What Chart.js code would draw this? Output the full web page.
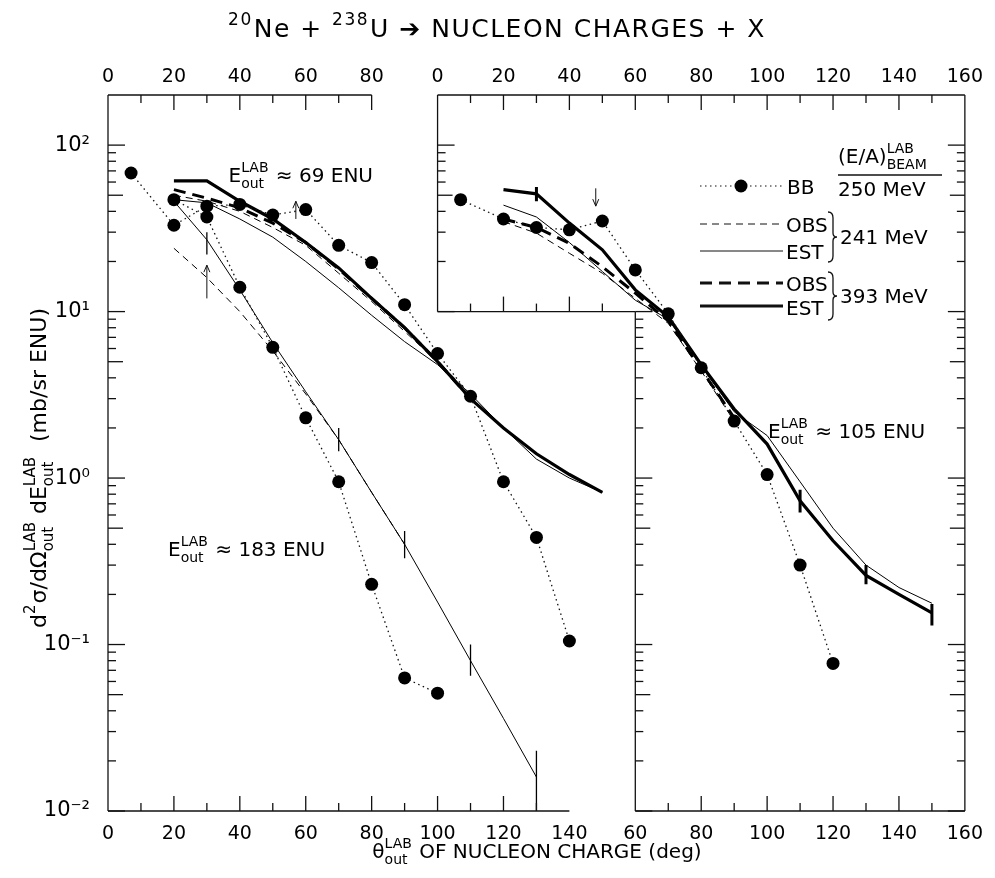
<!DOCTYPE html>
<html>
<head>
<meta charset="utf-8">
<script src="https://cdn.jsdelivr.net/npm/chart.js@4.4.1/dist/chart.umd.min.js"></script>
<style>
  html, body { margin: 0; background: #fff; }
</style>
</head>
<body>
<canvas id="chart" width="995" height="878"></canvas>
<script>
// right panel angles sit on the same x scale, shifted by this amount
const OFFSET = 100
const Y_MIN = 0.01
const Y_MAX = 200
const FONT = "'DejaVu Sans', sans-serif"

// tick labels
const bottomTicks = [0, 20, 40, 60, 80, 100, 120, 140, 160, 180, 200, 220, 240, 260]
const topTicks = [0, 20, 40, 60, 80, 100, 120, 140, 160, 180, 200, 220, 240, 260]
const yTicks = [0.01, 0.1, 1, 10, 100]
const yTickLabels = ["10\u207B\u00B2", "10\u207B\u00B9", "10\u2070", "10\u00B9", "10\u00B2"]

// left panel, E ~ 69 ENU
const bb69Deg = [7, 20, 30, 40, 50, 60, 70, 80, 90, 100, 110, 120, 130, 140]
const bb69 = [68, 33, 43, 44, 38, 41, 25, 19.7, 11, 5.6, 3.1, 0.95, 0.44, 0.105]
const est69Deg = [20, 30, 40, 50, 60, 70, 80, 90, 100, 110, 120, 130, 140, 150]
const est393_69 = [61, 61, 46, 36, 26, 18.3, 12, 8, 5, 3.0, 2.0, 1.4, 1.05, 0.82]
const est241_69 = [47, 45, 36, 28, 20, 13.9, 9.5, 6.6, 4.8, 3.2, 2.0, 1.3, 1.0, 0.82]
const obs69Deg = [20, 30, 40, 50, 60, 70, 80, 90, 100, 110]
const obs393_69 = [54, 48, 42, 34, 26, 18, 12, 8, 5, 3.0]
const obs241_69 = [50, 46, 40, 32, 25, 17, 11.5, 7.6, 5, 3.2]

// left panel, E ~ 183 ENU
const bb183Deg = [20, 30, 40, 50, 60, 70, 80, 90, 100]
const bb183 = [47, 37, 14, 6.1, 2.3, 0.95, 0.23, 0.063, 0.051]
const est183Deg = [20, 30, 40, 50, 60, 70, 80, 90, 100, 110, 120, 130]
const est241_183 = [46, 27, 13.5, 6.5, 3.3, 1.7, 0.82, 0.4, 0.18, 0.08, 0.036, 0.016]
const obs183Deg = [20, 30, 40, 50, 60, 70, 80, 90]
const obs241_183 = [24, 16, 10, 5.8, 3.2, 1.7, 0.82, 0.4]

// right panel, E ~ 105 ENU
const bbRDeg = [7, 20, 30, 40, 50, 60, 70, 80, 90, 100, 110, 120]
const bbR = [47, 36, 32, 31, 35, 17.8, 9.7, 4.6, 2.2, 1.05, 0.3, 0.077]
const estRDeg = [20, 30, 40, 50, 60, 70, 80, 90, 100, 110, 120, 130, 140, 150]
const est393R = [54, 51, 34, 23.5, 13.5, 9.3, 4.8, 2.6, 1.6, 0.73, 0.42, 0.26, 0.2, 0.155]
const est241R = [43.6, 37, 26, 17.4, 11.7, 9, 4.7, 2.5, 1.8, 0.95, 0.5, 0.3, 0.22, 0.177]
const obsRDeg = [20, 30, 40, 50, 60, 70, 80, 90]
const obs393R = [36, 32, 25.7, 18.6, 12.9, 8.8, 4.5, 2.3]
const obs241R = [34.7, 29.6, 22.4, 17, 12, 8.5, 4.4, 2.2]

// error bars (left thin ones, right thick ones)
const errThinDeg = [30, 70, 90, 110, 130]
const errThinLo = [22, 1.45, 0.33, 0.065, 0.0095]
const errThinHi = [30, 2.0, 0.48, 0.1, 0.023]
const errThickDeg = [30, 110, 130, 150]
const errThickLo = [46, 0.62, 0.23, 0.13]
const errThickHi = [56, 0.85, 0.3, 0.175]

// small arrows: x on shared scale, tail value, head value
const arrowX = [30, 57, 48 + OFFSET]
const arrowTail = [12, 36, 55]
const arrowHead = [19, 46, 43]

function pts(deg, vals, shift) {
  return deg.map((d, i) => ({ x: d + (shift || 0), y: vals[i] }))
}

function bars(deg, lo, hi, shift) {
  let out = []
  deg.forEach((d, i) => {
    out.push({ x: d + shift, y: lo[i] }, { x: d + shift, y: hi[i] }, { x: d + shift, y: null })
  })
  return out
}

function bb(data) {
  return { data, borderColor: '#111', borderWidth: 1.3, borderDash: [1.5, 3.5],
           pointRadius: 6.5, pointBackgroundColor: '#000', pointBorderWidth: 0 }
}
function line(data, width, dash) {
  return { data, borderColor: '#000', borderWidth: width, borderDash: dash || [], pointRadius: 0 }
}

const datasets = [
  bb(pts(bb69Deg, bb69)),
  bb(pts(bb183Deg, bb183)),
  bb(pts(bbRDeg, bbR, OFFSET)),
  line(pts(est69Deg, est393_69), 3.2),
  line(pts(obs69Deg, obs393_69), 3, [12, 7]),
  line(pts(est69Deg, est241_69), 1),
  line(pts(obs69Deg, obs241_69), 1, [7, 5]),
  line(pts(est183Deg, est241_183), 1),
  line(pts(obs183Deg, obs241_183), 1, [7, 5]),
  line(pts(estRDeg, est393R, OFFSET), 3.2),
  line(pts(obsRDeg, obs393R, OFFSET), 3, [12, 7]),
  line(pts(estRDeg, est241R, OFFSET), 1),
  line(pts(obsRDeg, obs241R, OFFSET), 1, [7, 5]),
  line(bars(errThinDeg, errThinLo, errThinHi, 0), 1.3),
  line(bars(errThickDeg, errThickLo, errThickHi, OFFSET), 3)
]

// text with raised / lowered pieces; items are strings or {sup, sub}
function rich(ctx, x, y, items, size, align) {
  const small = Math.round(size * 0.68)
  const widthOf = it => {
    if (typeof it === 'string') { ctx.font = size + 'px ' + FONT; return ctx.measureText(it).width }
    ctx.font = small + 'px ' + FONT
    return Math.max(it.sup ? ctx.measureText(it.sup).width : 0, it.sub ? ctx.measureText(it.sub).width : 0) + 1
  }
  const total = items.reduce((s, it) => s + widthOf(it), 0)
  let cx = align === 'center' ? x - total / 2 : align === 'right' ? x - total : x
  ctx.textAlign = 'left'
  ctx.textBaseline = 'alphabetic'
  items.forEach(it => {
    const w = widthOf(it)
    if (typeof it === 'string') {
      ctx.font = size + 'px ' + FONT
      ctx.fillText(it, cx, y)
    } else {
      ctx.font = small + 'px ' + FONT
      if (it.sup) ctx.fillText(it.sup, cx, y - size * 0.48)
      if (it.sub) ctx.fillText(it.sub, cx, y + size * 0.3)
    }
    cx += w
  })
}

const frame = {
  id: 'frame',
  afterDatasetsDraw(chart) {
    const { ctx, scales: { x, y } } = chart
    const X = v => x.getPixelForValue(v)
    const Y = v => y.getPixelForValue(v)
    ctx.save()
    ctx.strokeStyle = '#111'
    ctx.fillStyle = '#000'
    ctx.lineWidth = 1.3
    ctx.setLineDash([])
    const seg = (x1, y1, x2, y2) => { ctx.beginPath(); ctx.moveTo(x1, y1); ctx.lineTo(x2, y2); ctx.stroke() }

    // outline pieces of the two panels
    seg(X(0), Y(Y_MIN), X(0), Y(Y_MAX))
    seg(X(0), Y(Y_MAX), X(80), Y(Y_MAX))
    seg(X(0), Y(Y_MIN), X(140), Y(Y_MIN))
    seg(X(OFFSET), Y(10), X(OFFSET), Y(Y_MAX))
    seg(X(OFFSET), Y(10), X(OFFSET + 60), Y(10))
    seg(X(OFFSET), Y(Y_MAX), X(OFFSET + 160), Y(Y_MAX))
    seg(X(OFFSET + 60), Y(Y_MIN), X(OFFSET + 60), Y(10))
    seg(X(OFFSET + 60), Y(Y_MIN), X(OFFSET + 160), Y(Y_MIN))
    seg(X(OFFSET + 160), Y(Y_MIN), X(OFFSET + 160), Y(Y_MAX))

    // log ticks
    const logTicks = []
    for (let e = -2; e <= 2; e++) for (let m = 1; m <= 9; m++) logTicks.push([m * Math.pow(10, e), m])
    const yTick = (xp, lo, hi, dir) => logTicks.forEach(([v, m]) => {
      if (v < lo * 0.999 || v > hi * 1.001) return
      const len = m === 1 ? 17 : m === 5 ? 15 : 8
      seg(xp, Y(v), xp + dir * len, Y(v))
    })
    yTick(X(0), Y_MIN, 100, 1)
    yTick(X(OFFSET + 160), Y_MIN, 100, -1)
    yTick(X(OFFSET), 10, 100, 1)
    yTick(X(OFFSET + 60), Y_MIN, 10, 1)

    // angle ticks
    const xTick = (from, to, base, yp, dir) => {
      for (let v = from; v <= to; v += 10) {
        const len = (v - base) % 20 === 0 ? 15 : 8
        seg(X(v), yp, X(v), yp + dir * len)
      }
    }
    xTick(10, 130, 0, Y(Y_MIN), -1)
    xTick(OFFSET + 70, OFFSET + 150, OFFSET, Y(Y_MIN), -1)
    xTick(10, 70, 0, Y(Y_MAX), 1)
    xTick(80, 80, 0, Y(Y_MAX), 1)
    xTick(OFFSET + 10, OFFSET + 150, OFFSET, Y(Y_MAX), 1)
    xTick(OFFSET + 10, OFFSET + 50, OFFSET, Y(10), -1)

    // arrows
    ctx.lineWidth = 1
    arrowX.forEach((ax, i) => {
      const xp = X(ax), y1 = Y(arrowTail[i]), y2 = Y(arrowHead[i])
      const d = y2 < y1 ? 1 : -1
      seg(xp, y1, xp, y2)
      seg(xp, y2, xp - 3, y2 + d * 7)
      seg(xp, y2, xp + 3, y2 + d * 7)
    })

    // energy labels
    const E = ['E', { sup: 'LAB', sub: 'out' }]
    rich(ctx, 373, 182, E.concat([' \u2248 69 ENU']), 20, 'right')
    rich(ctx, 168, 556, E.concat([' \u2248 183 ENU']), 20, 'left')
    rich(ctx, 768, 438, E.concat([' \u2248 105 ENU']), 20, 'left')

    // legend
    const lx1 = 700, lx2 = 783
    ctx.lineWidth = 1.2
    ctx.setLineDash([1.5, 3.5]); seg(lx1, 186, lx2, 186)
    ctx.setLineDash([])
    ctx.beginPath(); ctx.arc(741, 186, 6.5, 0, Math.PI * 2); ctx.fill()
    ctx.lineWidth = 1; ctx.setLineDash([7, 5]); seg(lx1, 224, lx2, 224)
    ctx.setLineDash([]); seg(lx1, 251, lx2, 251)
    ctx.lineWidth = 3; ctx.setLineDash([12, 7]); seg(lx1, 283, lx2, 283)
    ctx.setLineDash([]); seg(lx1, 306, lx2, 306)
    ctx.lineWidth = 1.3
    seg(838, 175, 942, 175)
    rich(ctx, 838, 163, ['(E/A)', { sup: 'LAB', sub: 'BEAM' }], 20, 'left')
    rich(ctx, 787, 194, ['BB'], 20, 'left')
    rich(ctx, 838, 196, ['250 MeV'], 20, 'left')
    rich(ctx, 786, 232, ['OBS'], 20, 'left')
    rich(ctx, 786, 259, ['EST'], 20, 'left')
    rich(ctx, 786, 291, ['OBS'], 20, 'left')
    rich(ctx, 786, 315, ['EST'], 20, 'left')
    const brace = (xb, ya, yb) => {
      const ym = (ya + yb) / 2
      ctx.beginPath()
      ctx.moveTo(xb, ya)
      ctx.quadraticCurveTo(xb + 5, ya, xb + 5, ya + 6)
      ctx.lineTo(xb + 5, ym - 4)
      ctx.quadraticCurveTo(xb + 5, ym, xb + 9, ym)
      ctx.quadraticCurveTo(xb + 5, ym, xb + 5, ym + 4)
      ctx.lineTo(xb + 5, yb - 6)
      ctx.quadraticCurveTo(xb + 5, yb, xb, yb)
      ctx.stroke()
    }
    brace(828, 212, 262)
    brace(828, 272, 320)
    rich(ctx, 840, 244, ['241 MeV'], 20, 'left')
    rich(ctx, 840, 303, ['393 MeV'], 20, 'left')

    // title
    ctx.letterSpacing = '1.5px'
    rich(ctx, 497, 37, [{ sup: '20' }, 'Ne + ', { sup: '238' }, 'U \u2794 NUCLEON CHARGES + X'], 25, 'center')
    ctx.letterSpacing = '0px'

    // axis titles
    rich(ctx, 537, 858, ['\u03B8', { sup: 'LAB', sub: 'out' }, ' OF NUCLEON CHARGE (deg)'], 20, 'center')
    ctx.translate(46, 468)
    ctx.rotate(-Math.PI / 2)
    rich(ctx, 0, 0, ['d', { sup: '2' }, '\u03C3/d\u03A9', { sup: 'LAB', sub: 'out' }, ' dE', { sup: 'LAB', sub: 'out' }, '  (mb/sr ENU)'], 22, 'center')
    ctx.restore()
  }
}

new Chart(document.getElementById('chart'), {
  type: 'line',
  data: { datasets },
  plugins: [frame],
  options: {
    responsive: false,
    animation: false,
    spanGaps: false,
    layout: { padding: { left: 0, right: 23, top: 0, bottom: 0 } },
    plugins: { legend: { display: false }, tooltip: { enabled: false } },
    elements: { line: { tension: 0 } },
    scales: {
      x: {
        type: 'linear', position: 'bottom', min: 0, max: 260,
        afterBuildTicks: s => { s.ticks = bottomTicks.map(v => ({ value: v })) },
        afterFit: s => { s.height = 67 },
        grid: { display: false, drawTicks: false },
        border: { display: false },
        ticks: { color: '#000', padding: 12, maxRotation: 0, autoSkip: false,
                 font: { family: FONT, size: 19 },
                 callback: v => v <= 140 ? v : v - OFFSET }
      },
      xTop: {
        type: 'linear', position: 'top', min: 0, max: 260,
        afterBuildTicks: s => { s.ticks = topTicks.map(v => ({ value: v })) },
        afterFit: s => { s.height = 95 },
        grid: { display: false, drawTicks: false },
        border: { display: false },
        ticks: { color: '#000', padding: 7, maxRotation: 0, autoSkip: false,
                 font: { family: FONT, size: 19 },
                 callback: v => v <= 80 ? v : v - OFFSET }
      },
      y: {
        type: 'logarithmic', min: Y_MIN, max: Y_MAX,
        afterBuildTicks: s => { s.ticks = yTicks.map(v => ({ value: v })) },
        afterFit: s => { s.width = 108 },
        grid: { display: false, drawTicks: false },
        border: { display: false },
        ticks: { color: '#000', padding: 18, autoSkip: false,
                 font: { family: FONT, size: 21 },
                 callback: v => yTickLabels[yTicks.indexOf(v)] }
      }
    }
  }
})
</script>
</body>
</html>
